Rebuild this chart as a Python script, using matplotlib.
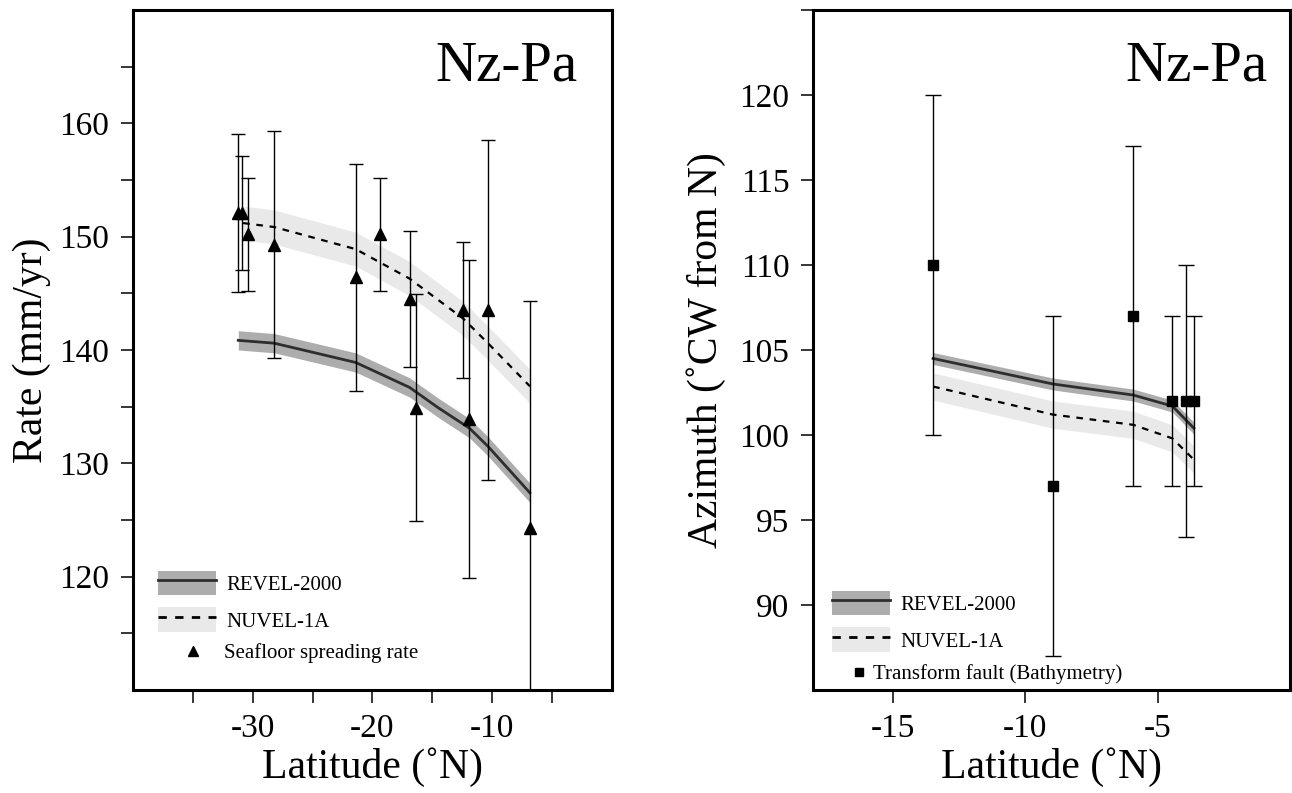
import matplotlib
matplotlib.use("Agg")
import numpy as np
import matplotlib.pyplot as plt
from matplotlib.lines import Line2D
from matplotlib.patches import Patch
from matplotlib.ticker import FixedLocator

plt.rcParams['font.family'] = ['Liberation Serif', 'DejaVu Serif']
plt.rcParams['axes.unicode_minus'] = False

# ---- left panel: spreading rate ----
rate_lat = [-31.2, -30.9, -30.4, -28.2, -21.4, -19.4, -16.9, -16.4, -12.45, -11.9, -10.35, -6.85]
rate_val = [152.1, 152.1, 150.2, 149.3, 146.4, 150.2, 144.5, 134.9, 143.5, 133.9, 143.5, 124.3]
rate_err = [7.0, 5.0, 5.0, 10.0, 10.0, 5.0, 6.0, 10.0, 6.0, 14.0, 15.0, 20.0]

revel_rate_lat = [-31.2, -28.2, -21.4, -16.9, -14.5, -11.9, -10.35, -6.85]
revel_rate = [140.85, 140.6, 138.9, 136.7, 134.9, 133.1, 131.5, 127.4]
revel_rate_sig = 0.85

nuvel_rate_lat = [-30.8, -28.2, -21.4, -16.9, -12.45, -10.35, -6.85]
nuvel_rate = [151.2, 150.85, 148.9, 146.3, 142.8, 140.6, 136.8]
nuvel_rate_sig = 1.5

# ---- right panel: azimuth ----
az_lat = [-13.47, -8.95, -5.92, -4.44, -3.94, -3.63]
az_val = [110.0, 97.0, 107.0, 102.0, 102.0, 102.0]
az_err = [10.0, 10.0, 10.0, 5.0, 8.0, 5.0]

revel_az_lat = [-13.47, -8.95, -5.92, -4.44, -3.63]
revel_az = [104.5, 103.0, 102.35, 101.7, 100.4]
revel_az_sig = 0.35

nuvel_az_lat = [-13.47, -8.95, -5.92, -4.44, -3.63]
nuvel_az = [102.85, 101.2, 100.6, 99.8, 98.55]
nuvel_az_sig = 0.8

REV_BAND = '#adadad'
REV_LINE = '#2e2e2e'
NUV_BAND = '#e9e9e9'
TICK_FS = 24
LABEL_FS = 30
LEG_FS = 15

fig = plt.figure(figsize=(12.92, 7.93), dpi=100)
ax1 = fig.add_axes([0.1029, 0.1299, 0.3707, 0.8575])
ax2 = fig.add_axes([0.6293, 0.1299, 0.3692, 0.8575])


def draw_models(ax, rl, rv, rs, nl, nv, ns):
    rv = np.array(rv)
    nv = np.array(nv)
    ax.fill_between(nl, nv - ns, nv + ns, color=NUV_BAND, lw=0, zorder=1)
    ax.fill_between(rl, rv - rs, rv + rs, color=REV_BAND, lw=0, zorder=2)
    ax.plot(rl, rv, color=REV_LINE, lw=2.0, zorder=3)
    ax.plot(nl, nv, color='black', lw=1.6, ls=(0, (3, 3)), zorder=3)


def style_axes(ax):
    for s in ax.spines.values():
        s.set_linewidth(2.2)
    ax.tick_params(which='both', direction='out', length=9, width=1.1,
                   labelsize=TICK_FS, pad=8, top=False, right=False)


def add_legend(ax, anchor, marker, mlabel, manchor, mlen, mpad, ms):
    h = [(Patch(facecolor=REV_BAND, edgecolor='none'), Line2D([], [], color=REV_LINE, lw=2.0)),
         (Patch(facecolor=NUV_BAND, edgecolor='none'), Line2D([], [], color='black', lw=2.0, ls=(0, (3, 3))))]
    leg = ax.legend(h, ['REVEL-2000', 'NUVEL-1A'], loc='lower left', bbox_to_anchor=anchor,
                    frameon=False, borderpad=0, borderaxespad=0, handlelength=2.8,
                    handleheight=1.45, handletextpad=0.5, labelspacing=0.57,
                    prop={'size': LEG_FS})
    ax.add_artist(leg)
    mh = Line2D([], [], marker=marker, ls='none', color='black', markersize=ms)
    ax.legend([mh], [mlabel], loc='center left', bbox_to_anchor=manchor, frameon=False,
              borderpad=0, borderaxespad=0, handlelength=mlen, handletextpad=mpad,
              prop={'size': LEG_FS})


# left panel
draw_models(ax1, revel_rate_lat, revel_rate, revel_rate_sig,
            nuvel_rate_lat, nuvel_rate, nuvel_rate_sig)
ax1.errorbar(rate_lat, rate_val, yerr=rate_err, fmt='^', color='black', ms=8,
             elinewidth=1.0, capsize=5, capthick=1.0, zorder=4)
ax1.set_xlim(-40, 0)
ax1.set_ylim(110, 170)
ax1.xaxis.set_major_locator(FixedLocator([-30, -20, -10]))
ax1.xaxis.set_minor_locator(FixedLocator([-35, -25, -15, -5]))
ax1.yaxis.set_major_locator(FixedLocator([120, 130, 140, 150, 160]))
ax1.yaxis.set_minor_locator(FixedLocator([115, 125, 135, 145, 155, 165]))
style_axes(ax1)
ax1.set_xlabel('Latitude (˚N)', fontsize=LABEL_FS, labelpad=2)
ax1.set_ylabel('Rate (mm/yr)', fontsize=LABEL_FS, labelpad=6)
ax1.text(0.929, 0.8956, 'Nz-Pa', transform=ax1.transAxes, ha='right', va='baseline', fontsize=41)
add_legend(ax1, (0.052, 0.0853), '^', 'Seafloor spreading rate', (0.103, 0.054), 1.0, 1.0, 6.5)

# right panel
draw_models(ax2, revel_az_lat, revel_az, revel_az_sig,
            nuvel_az_lat, nuvel_az, nuvel_az_sig)
ax2.errorbar(az_lat, az_val, yerr=az_err, fmt='s', color='black', ms=7,
             elinewidth=1.0, capsize=5.5, capthick=1.0, zorder=4)
ax2.set_xlim(-18, 0)
ax2.set_ylim(85, 125)
ax2.xaxis.set_major_locator(FixedLocator([-15, -10, -5]))
ax2.yaxis.set_major_locator(FixedLocator([90, 95, 100, 105, 110, 115, 120]))
ax2.yaxis.set_minor_locator(FixedLocator([125]))
style_axes(ax2)
ax2.set_xlabel('Latitude (˚N)', fontsize=LABEL_FS, labelpad=2)
ax2.set_ylabel('Azimuth (˚CW from N)', fontsize=LABEL_FS, labelpad=10)
ax2.text(0.952, 0.8956, 'Nz-Pa', transform=ax2.transAxes, ha='right', va='baseline', fontsize=41)
add_legend(ax2, (0.0398, 0.0559), 's', 'Transform fault (Bathymetry)', (0.083, 0.0235), 0.6, 0.37, 6)

fig.savefig('out.png', dpi=100)
